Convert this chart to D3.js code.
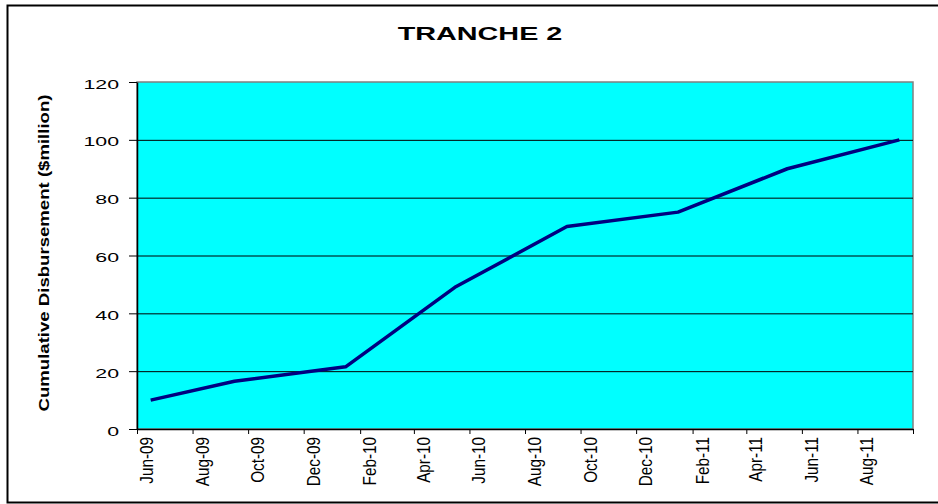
<!DOCTYPE html>
<html>
<head>
<meta charset="utf-8">
<script src="https://cdn.jsdelivr.net/npm/d3@7"></script>
<style>
  body { margin: 0; background: #fff; }
  svg { display: block; font-family: Arial, "Liberation Sans", sans-serif; }
</style>
</head>
<body>
<div id="chart"></div>
<script>
// data
var pointMonths = ["Jun-09", "Sep-09", "Jan-10", "May-10", "Sep-10", "Jan-11", "May-11", "Sep-11"];
var disbursed = [10, 16.5, 21.5, 49, 70, 75, 90, 100];
var tickLabels = ["Jun-09", "Aug-09", "Oct-09", "Dec-09", "Feb-10", "Apr-10", "Jun-10",
  "Aug-10", "Oct-10", "Dec-10", "Feb-11", "Apr-11", "Jun-11", "Aug-11"];
var yTicks = [0, 20, 40, 60, 80, 100, 120];

var parseMonth = d3.timeParse("%b-%y");

var W = 938, H = 504;
var margin = { top: 82, right: 25, bottom: 75, left: 137 };
var width = W - margin.left - margin.right;
var height = H - margin.top - margin.bottom;

var svg = d3.select("#chart").append("svg")
  .attr("width", W)
  .attr("height", H);

// outer chart frame
svg.append("rect")
  .attr("x", 7.5).attr("y", 5.5)
  .attr("width", 940).attr("height", 497)
  .attr("fill", "#fff")
  .attr("stroke", "#000")
  .attr("stroke-width", 2);

var plot = svg.append("g")
  .attr("transform", "translate(" + margin.left + "," + margin.top + ")");

// scales
var xStart = parseMonth(tickLabels[0]);
var xEnd = d3.timeMonth.offset(parseMonth(pointMonths[pointMonths.length - 1]), 1);
var xScale = d3.scaleTime().domain([xStart, xEnd]).range([0, width]);
var yScale = d3.scaleLinear().domain([0, d3.max(yTicks)]).range([height, 0]);

// plot area
plot.append("rect")
  .attr("width", width).attr("height", height)
  .attr("fill", "#00ffff")
  .attr("stroke", "#808080")
  .attr("stroke-width", 1.5);

// gridlines
plot.append("g")
  .attr("class", "grid")
  .call(d3.axisLeft(yScale).tickValues(yTicks.slice(1, -1)).tickSize(-width).tickFormat(""))
  .call(function(g) { g.select(".domain").remove(); })
  .selectAll("line").attr("stroke", "#000").attr("stroke-width", 1);

// y axis
var yAxis = plot.append("g")
  .call(d3.axisLeft(yScale).tickValues(yTicks).tickSize(8).tickSizeOuter(0));
yAxis.select(".domain").attr("stroke", "#000").attr("stroke-width", 1.5);
yAxis.selectAll("line").attr("stroke", "#000");
yAxis.selectAll("text")
  .attr("x", null).attr("dy", null)
  .attr("fill", "#000")
  .style("font-size", "13.5px")
  .attr("text-anchor", "end")
  .attr("transform", "translate(-18,6) scale(1.58,1)");

// x axis
var xTickDates = tickLabels.map(parseMonth).concat([xEnd]);
var xAxis = plot.append("g")
  .attr("transform", "translate(0," + height + ")")
  .call(d3.axisBottom(xScale)
    .tickValues(xTickDates)
    .tickSize(5).tickSizeOuter(0)
    .tickFormat(function(d, i) { return i < tickLabels.length ? tickLabels[i] : ""; }));
xAxis.select(".domain").attr("stroke", "#000").attr("stroke-width", 1.5);
xAxis.selectAll("line").attr("stroke", "#000");
xAxis.selectAll("text")
  .attr("y", null).attr("dy", null)
  .attr("fill", "#000")
  .style("font-size", "11.5px")
  .attr("text-anchor", "end")
  .attr("transform", "translate(15.5,8) rotate(-90) scale(1.33,1.55)");

// line
var line = d3.line()
  .x(function(d) { return xScale(d3.timeDay.offset(d.month, 15)); })
  .y(function(d) { return yScale(d.value); });

var series = pointMonths.map(function(m, i) {
  return { month: parseMonth(m), value: disbursed[i] };
});

plot.append("path")
  .datum(series)
  .attr("fill", "none")
  .attr("stroke", "#000080")
  .attr("stroke-width", 3.5)
  .attr("stroke-linejoin", "round")
  .attr("d", line);

// title
svg.append("text")
  .attr("transform", "translate(480,40) scale(1.6,1)")
  .attr("text-anchor", "middle")
  .style("font-size", "18px")
  .style("font-weight", "bold")
  .text("TRANCHE 2");

// y label
svg.append("text")
  .attr("transform", "translate(49,253) rotate(-90)")
  .attr("text-anchor", "middle")
  .attr("textLength", 317)
  .attr("lengthAdjust", "spacingAndGlyphs")
  .style("font-size", "15.5px")
  .style("font-weight", "bold")
  .text("Cumulative Disbursement ($million)");
</script>
</body>
</html>
